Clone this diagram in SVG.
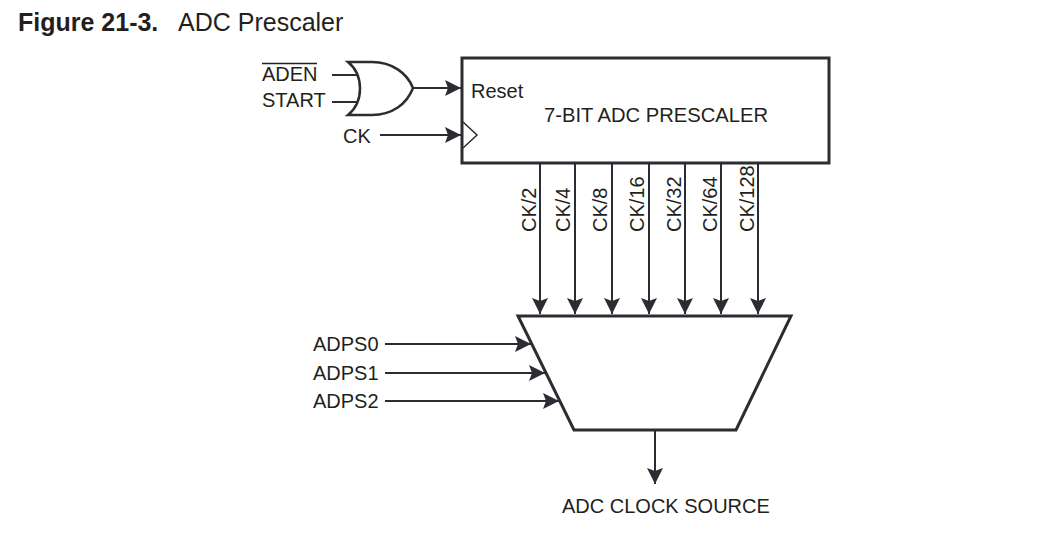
<svg xmlns="http://www.w3.org/2000/svg" width="1062" height="541" viewBox="0 0 1062 541">
<style>
text{font-family:"Liberation Sans",Arial,sans-serif;font-size:20px;fill:#231f20}
.t{font-size:25px}
.m{font-size:20.200px}
.c{stroke:#2b2d33;stroke-width:2;fill:none}
.b{stroke:#2b2d33;stroke-width:3;fill:#fff}
.a{stroke:#2b2d33;stroke-width:2;fill:none;marker-end:url(#ah)}
</style>
<defs>
<marker id="ah" markerUnits="userSpaceOnUse" markerWidth="18" markerHeight="16" refX="16" refY="8" orient="auto">
<path d="M0 0L16 8L0 16L3 8Z" fill="#2b2d33"/>
</marker>
</defs>
<rect width="1062" height="541" fill="#fff"/>
<g id="title">
<text class="t" x="18" y="31" style="font-weight:bold">Figure 21-3.</text>
<text class="t" x="178" y="31">ADC Prescaler</text>
</g>
<g id="connectors">
<path class="c" d="M332 75H358M332 102H358"/>
<path class="a" d="M413 88H461"/>
<path class="a" d="M380 135H461"/>
<path class="a" d="M540 163V314"/>
<path class="a" d="M575 163V314"/>
<path class="a" d="M612 163V314"/>
<path class="a" d="M649 163V314"/>
<path class="a" d="M685 163V314"/>
<path class="a" d="M721 163V314"/>
<path class="a" d="M758 163V314"/>
<path class="a" d="M385 344H531"/>
<path class="a" d="M385 373H545"/>
<path class="a" d="M385 401H559"/>
<path class="a" d="M655 430V484"/>
</g>
<g id="or-gate">
<path class="c" style="stroke-width:2.500" d="M348 62H372C392 62 407 73 413 88C407 104 392 115 372 115H348C364 102 364 75 348 62Z"/>
</g>
<g id="prescaler">
<rect class="b" x="462" y="58" width="367" height="105"/>
<path class="c" style="stroke-width:1.500" d="M463 122L477 135L463 148"/>
<text x="471" y="98">Reset</text>
<text class="m" x="544" y="122">7-BIT ADC PRESCALER</text>
</g>
<g id="mux">
<path class="b" d="M518 316H791L736 430H574Z" fill="none"/>
</g>
<g id="labels">
<text x="262" y="81">ADEN</text>
<path d="M262 63.500H317" stroke="#231f20" stroke-width="1.500"/>
<text x="262" y="107">START</text>
<text x="343" y="143">CK</text>
<text x="313" y="351">ADPS0</text>
<text x="313" y="380">ADPS1</text>
<text x="313" y="408">ADPS2</text>
<text x="562" y="513">ADC CLOCK SOURCE</text>
<text transform="translate(536 232) rotate(-90)">CK/2</text>
<text transform="translate(570 232) rotate(-90)">CK/4</text>
<text transform="translate(607 232) rotate(-90)">CK/8</text>
<text transform="translate(644 232) rotate(-90)">CK/16</text>
<text transform="translate(681 232) rotate(-90)">CK/32</text>
<text transform="translate(717 232) rotate(-90)">CK/64</text>
<text transform="translate(754 232) rotate(-90)">CK/128</text>
</g>
</svg>
